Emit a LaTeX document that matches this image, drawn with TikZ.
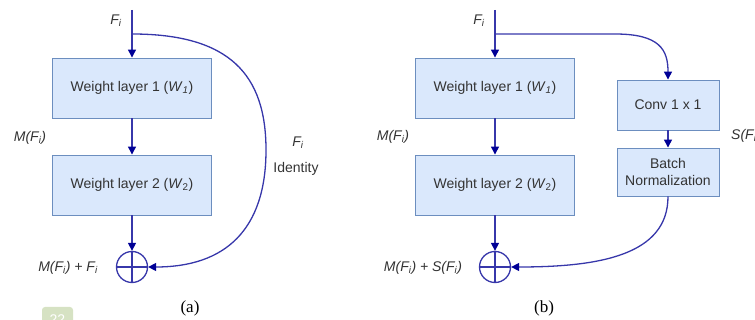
\documentclass[tikz,border=0pt]{standalone}
\usepackage{fontspec}
\setmainfont{Liberation Sans}
\newfontfamily\capfont{Liberation Serif}
\usetikzlibrary{arrows.meta}
\definecolor{boxfill}{HTML}{DAE8FC}
\definecolor{boxline}{HTML}{6C8EBF}
\definecolor{wire}{RGB}{55,55,170}
\definecolor{tip}{RGB}{0,0,150}
\definecolor{txt}{HTML}{333333}
\definecolor{badge}{RGB}{214,226,195}
\tikzset{
 layer/.style={draw=boxline, fill=boxfill, line width=0.9pt, minimum width=159pt, minimum height=60pt, text=txt, font=\fontsize{14}{17}\selectfont, align=center, inner sep=0pt},
 smallbox/.style={layer, minimum width=102pt},
 wirearrow/.style={draw=wire, line width=1.3pt, -{Triangle[width=8pt,length=8pt,color=tip]}},
 lbl/.style={text=txt, font=\fontsize{14}{17}\selectfont\itshape, inner sep=0pt},
 plainlbl/.style={text=txt, font=\fontsize{14}{17}\selectfont, inner sep=0pt},
 adder/.style={circle, draw=wire, line width=1.3pt, minimum size=31pt, inner sep=0pt,
   path picture={\draw[wire, line width=1.1pt] (path picture bounding box.north) -- (path picture bounding box.south) (path picture bounding box.west) -- (path picture bounding box.east);}},
 captxt/.style={font=\capfont\fontsize{17}{20}\selectfont, text=black, inner sep=0pt}
}
\begin{document}
\begin{tikzpicture}[x=1pt,y=-1pt]
\useasboundingbox (0,0) rectangle (755,320);
\clip (0,0) rectangle (755,320);
% (a)
\coordinate (ina) at (132,10);
\coordinate (bra) at (132,34);
\node[layer] (w1a) at (132,88) {Weight layer 1 (\textit{W}\textsubscript{\textit{1}})};
\node[layer] (w2a) at (132,185) {Weight layer 2 (\textit{W}\textsubscript{2})};
\node[adder] (suma) at (132,267) {};
\draw[wirearrow] (ina) -- (w1a);
\draw[wirearrow] (w1a) -- (w2a);
\draw[wirearrow] (w2a) -- (suma);
\draw[wirearrow] (bra) .. controls (230,34) and (266,75) .. (266,150) .. controls (266,230) and (225,267) .. (suma.east);
\node[lbl] (fa) at (116,21) {F\textsubscript{i}};
\node[lbl] (ma) at (30,138) {M(F\textsubscript{i})};
\node[lbl] (fia) at (298,143) {F\textsubscript{i}};
\node[plainlbl] (ida) at (296,169) {Identity};
\node[lbl] (sa) at (68,268) {M(F\textsubscript{i}) + F\textsubscript{i}};
\node[captxt] (capa) at (190,308) {(a)};
% (b)
\coordinate (inb) at (495,10);
\coordinate (brb) at (495,34);
\node[layer] (w1b) at (495,88) {Weight layer 1 (\textit{W}\textsubscript{\textit{1}})};
\node[layer] (w2b) at (495,185) {Weight layer 2 (\textit{W}\textsubscript{2})};
\node[smallbox, minimum height=50pt] (conv) at (668,105) {Conv 1 x 1};
\node[smallbox, minimum height=48pt] (bn) at (668,172) {Batch\\Normalization};
\node[adder] (sumb) at (495,267) {};
\draw[wirearrow] (inb) -- (w1b);
\draw[wirearrow] (w1b) -- (w2b);
\draw[wirearrow] (w2b) -- (sumb);
\draw[wirearrow] (brb) -- (615,34) .. controls (660,34) and (668,50) .. (conv.north);
\draw[wirearrow] (conv) -- (bn);
\draw[wirearrow] (bn.south) .. controls (668,255) and (600,267) .. (sumb.east);
\node[lbl] (fb) at (479,21) {F\textsubscript{i}};
\node[lbl] (mb) at (393,137) {M(F\textsubscript{i})};
\node[lbl, anchor=west] (sb) at (731,136) {S(F\textsubscript{i})};
\node[lbl] (sumlb) at (423,268) {M(F\textsubscript{i}) + S(F\textsubscript{i})};
\node[captxt] (capb) at (544,308) {(b)};
% badge
\node[fill=badge, rounded corners=3pt, minimum width=31pt, minimum height=26pt, inner sep=0pt] (badgebox) at (57.5,320) {};
\node[text=white, font=\fontsize{14}{17}\selectfont, anchor=north, inner sep=0pt] (badgetxt) at (57.5,315) {22};
\end{tikzpicture}
\end{document}
